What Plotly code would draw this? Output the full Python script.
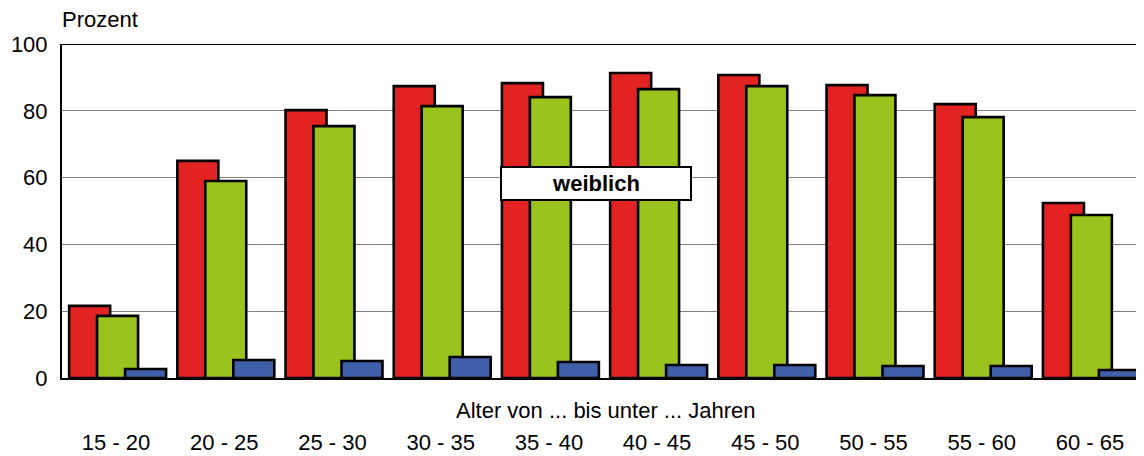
import plotly.graph_objects as go

categories = ["15 - 20", "20 - 25", "25 - 30", "30 - 35", "35 - 40",
              "40 - 45", "45 - 50", "50 - 55", "55 - 60", "60 - 65"]
red_vals = [21.6, 65.0, 80.2, 87.4, 88.3, 91.3, 90.7, 87.7, 82.0, 52.4]
green_vals = [18.6, 59.0, 75.4, 81.4, 84.1, 86.5, 87.4, 84.7, 78.1, 48.8]
blue_vals = [2.7, 5.4, 5.1, 6.3, 4.8, 3.9, 3.9, 3.6, 3.6, 2.4]
y_ticks = [0, 20, 40, 60, 80, 100]

FONT = "Arial, Liberation Sans, sans-serif"
FS = 22
W = 0.379
series = [
    (red_vals, "#E32322", -0.434),
    (green_vals, "#9BC31E", -0.176),
    (blue_vals, "#3F60A8", 0.083),
]

fig = go.Figure()
for vals, col, off in series:
    fig.add_trace(go.Bar(
        x=categories, y=vals, width=W, offset=off,
        marker=dict(color=col, line=dict(color="black", width=2.6)),
        showlegend=False,
    ))

# page body has an 8px default margin, so the figure is 8px smaller
fig.update_layout(
    width=1136, height=448,
    margin=dict(l=54, r=0, t=36, b=78),
    barmode="overlay",
    plot_bgcolor="white", paper_bgcolor="white",
    font=dict(family=FONT, size=FS, color="black"),
    xaxis=dict(
        type="category", showgrid=False, showline=True, linecolor="black", linewidth=2,
        ticks="", ticklabelstandoff=44, tickfont=dict(size=FS), automargin=False,
        range=[-0.5, 9.5],
    ),
    yaxis=dict(
        range=[0, 100], tickvals=y_ticks, showgrid=True, gridcolor="#808080", gridwidth=1,
        showline=True, linecolor="black", linewidth=2, zeroline=False, automargin=False,
        ticks="", ticklabelstandoff=8, tickfont=dict(size=FS),
    ),
    shapes=[
        dict(type="line", xref="paper", yref="y", x0=0, x1=1, y0=100, y1=100,
             line=dict(color="black", width=2)),
    ],
    annotations=[
        dict(text="Prozent", xref="paper", yref="paper", x=0, y=1, yshift=10, xshift=-2,
             xanchor="left", yanchor="bottom", showarrow=False, font=dict(size=FS)),
        dict(text="Alter von ... bis unter ... Jahren", xref="paper", yref="paper",
             x=0.5, y=0, yshift=-32, xshift=3, xanchor="center", yanchor="middle",
             showarrow=False, font=dict(size=FS)),
        dict(text="<b>weiblich</b>", xref="paper", yref="paper", x=0.4935, y=0.581,
             xanchor="center", yanchor="middle", showarrow=False,
             bgcolor="white", bordercolor="black", borderwidth=2, borderpad=2,
             width=184, height=27, font=dict(size=FS)),
    ],
)

fig.write_html("out.html")
